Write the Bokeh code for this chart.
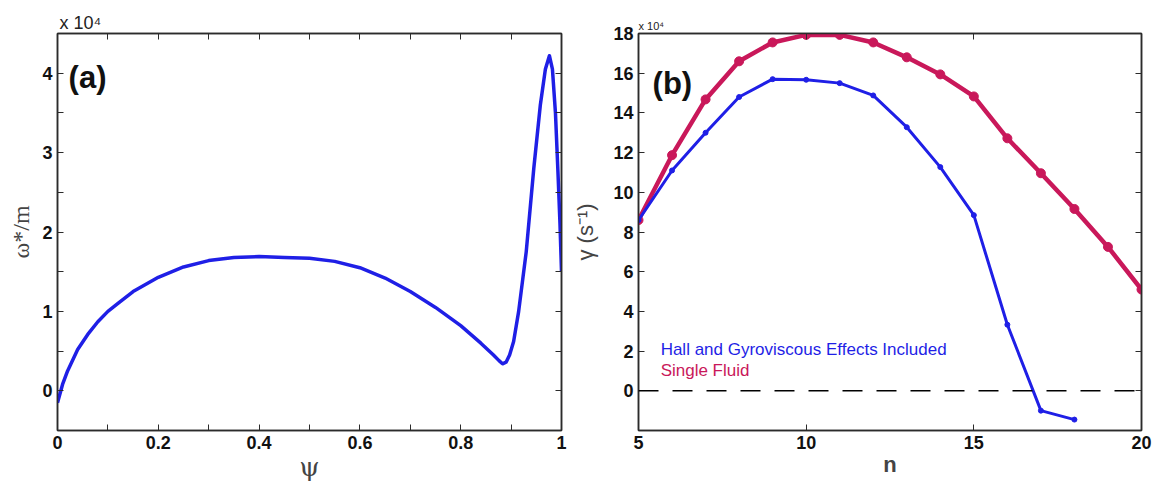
from bokeh.plotting import figure
from bokeh.layouts import row
from bokeh.models import (Range1d, FixedTicker, LinearAxis, Label, Span, Title,
                          CustomJSTickFormatter)
from bokeh.embed import file_html
from bokeh.resources import INLINE

# ---------------- data ----------------
# panel (a): omega*/m (units of 1e4) versus psi
psi = [0, 0.01, 0.02, 0.04, 0.06, 0.08, 0.1, 0.12, 0.15, 0.2, 0.25, 0.3, 0.35, 0.4,
       0.45, 0.5, 0.55, 0.6, 0.65, 0.7, 0.75, 0.8, 0.84, 0.865, 0.876, 0.883, 0.89,
       0.897, 0.905, 0.915, 0.93, 0.945, 0.958, 0.968, 0.976, 0.982, 0.988, 0.993,
       0.997, 1.0]
omega = [-0.15, 0.08, 0.25, 0.52, 0.71, 0.87, 1.0, 1.1, 1.25, 1.43, 1.56, 1.64, 1.68, 1.69,
         1.68, 1.67, 1.63, 1.55, 1.42, 1.25, 1.05, 0.82, 0.6, 0.45, 0.38, 0.34, 0.36,
         0.45, 0.62, 1.0, 1.75, 2.8, 3.6, 4.05, 4.22, 4.05, 3.5, 2.75, 2.1, 1.5]

# panel (b): growth rate gamma (units of 1e4 s^-1) versus n
n_single = [5, 6, 7, 8, 9, 10, 11, 12, 13, 14, 15, 16, 17, 18, 19, 20]
gamma_single = [8.6, 11.87, 14.68, 16.6, 17.55, 17.93, 17.93, 17.55, 16.8, 15.94,
                14.83, 12.72, 10.96, 9.16, 7.25, 5.1]
n_hall = [5, 6, 7, 8, 9, 10, 11, 12, 13, 14, 15, 16, 17, 18]
gamma_hall = [8.6, 11.1, 13.0, 14.8, 15.7, 15.67, 15.5, 14.88, 13.28, 11.27,
              8.85, 3.33, -1.0, -1.45]

# ticks
xticks_a = [0, 0.2, 0.4, 0.6, 0.8, 1]
xminor_a = [0.1, 0.3, 0.5, 0.7, 0.9]
yticks_a = [0, 1, 2, 3, 4]
yminor_a = [-0.5, 0.5, 1.5, 2.5, 3.5]
xticks_b = [5, 10, 15, 20]
yticks_b = [0, 2, 4, 6, 8, 10, 12, 14, 16, 18]

BLUE = "#1f1fe6"
RED = "#c9185a"
AXC = "#2b2b2b"
TICKFONT = "Liberation Sans"

fmt = CustomJSTickFormatter(code="return String(Math.round(tick*10)/10);")
blank = CustomJSTickFormatter(code="return '';")


def style_axis(ax, labels=True):
    ax.axis_line_color = AXC
    ax.axis_line_width = 1.5
    ax.major_tick_line_color = AXC
    ax.minor_tick_line_color = AXC
    ax.major_tick_line_width = 1
    ax.minor_tick_line_width = 1
    ax.major_tick_in = 6
    ax.major_tick_out = 0
    ax.minor_tick_in = 6
    ax.minor_tick_out = 0
    ax.major_label_text_font = TICKFONT
    ax.major_label_text_font_style = "bold"
    ax.major_label_text_color = "#111111"
    ax.major_label_text_font_size = "18px"
    ax.major_label_standoff = 5 if labels else 0


def make_fig(width, left, right, xr, yr):
    p = figure(width=width, height=484, output_backend="svg", toolbar_location=None,
               x_range=xr, y_range=yr, min_border_left=left, min_border_right=right,
               min_border_top=33, min_border_bottom=52, x_axis_type=None, y_axis_type=None)
    p.xgrid.visible = False
    p.ygrid.visible = False
    p.outline_line_color = AXC
    p.outline_line_width = 1.5
    p.background_fill_color = "white"
    p.border_fill_color = "white"
    return p


def add_axes(p, tx, ty):
    axes = {}
    for loc, dim in (("below", "x"), ("above", "x"), ("left", "y"), ("right", "y")):
        lab = loc in ("below", "left")
        ax = LinearAxis(ticker=tx if dim == "x" else ty, formatter=fmt if lab else blank)
        style_axis(ax, labels=lab)
        axes[loc] = ax
    return axes


# ---------------- panel (a) ----------------
pa = make_fig(570, 57, 9, Range1d(0, 1), Range1d(-0.5, 4.5))
axa = add_axes(pa, FixedTicker(ticks=xticks_a, minor_ticks=xminor_a),
               FixedTicker(ticks=yticks_a, minor_ticks=yminor_a))
ax = axa["below"]
ax.axis_label = "ψ"
ax.axis_label_text_font = "DejaVu Serif"
ax.axis_label_text_font_style = "normal"
ax.axis_label_text_font_size = "26px"
ax.axis_label_standoff = 0
ax = axa["left"]
ax.axis_label = "ω*/m"
ax.axis_label_text_font = "Liberation Serif"
ax.axis_label_text_font_style = "normal"
ax.axis_label_text_font_size = "24px"
ax.axis_label_standoff = 5

for loc in ("below", "above", "left", "right"):
    pa.add_layout(axa[loc], loc)
pa.add_layout(Title(text="x 10⁴", align="left", offset=2, standoff=2,
                    text_font=TICKFONT, text_font_style="normal", text_font_size="18px",
                    text_color="#222222"), "above")

pa.line(psi, omega, line_color=BLUE, line_width=3.5, line_join="round")
pa.add_layout(Label(x=0.022, y=3.94, text="(a)", text_font=TICKFONT, text_font_style="bold",
                    text_font_size="31px", text_color="#111111", text_baseline="alphabetic"))

# ---------------- panel (b) ----------------
pb = make_fig(589, 68, 18, Range1d(5, 20), Range1d(-2, 18))
axb = add_axes(pb, FixedTicker(ticks=xticks_b), FixedTicker(ticks=yticks_b))
ax = axb["below"]
ax.axis_label = "n"
ax.axis_label_text_font = TICKFONT
ax.axis_label_text_font_style = "bold"
ax.axis_label_text_font_size = "22px"
ax.axis_label_standoff = 0
ax = axb["left"]
ax.axis_label = "γ (s⁻¹)"
ax.axis_label_text_font = TICKFONT
ax.axis_label_text_font_style = "normal"
ax.axis_label_text_font_size = "22px"
ax.axis_label_standoff = 12

for loc in ("below", "above", "left", "right"):
    pb.add_layout(axb[loc], loc)
pb.add_layout(Title(text="x 10⁴", align="left", offset=0, standoff=3,
                    text_font=TICKFONT, text_font_style="normal", text_font_size="11px",
                    text_color="#222222"), "above")

pb.add_layout(Span(location=0, dimension="width", line_color="black", line_width=1.5,
                   line_dash="20 14"))

pb.line(n_single, gamma_single, line_color=RED, line_width=4.5)
pb.scatter(n_single, gamma_single, size=9, fill_color=RED, line_color=RED)
pb.line(n_hall, gamma_hall, line_color=BLUE, line_width=3)
pb.scatter(n_hall, gamma_hall, size=5, fill_color=BLUE, line_color=BLUE)

pb.add_layout(Label(x=5.42, y=15.49, text="(b)", text_font=TICKFONT, text_font_style="bold",
                    text_font_size="31px", text_color="#111111", text_baseline="alphabetic"))
pb.add_layout(Label(x=5.66, y=2.07, text="Hall and Gyroviscous Effects Included",
                    text_font=TICKFONT, text_font_size="17px", text_color=BLUE,
                    text_baseline="alphabetic"))
pb.add_layout(Label(x=5.66, y=1.02, text="Single Fluid",
                    text_font=TICKFONT, text_font_size="17px", text_color=RED,
                    text_baseline="alphabetic"))

layout = row(pa, pb, spacing=0)
open("out.html", "w").write(file_html(layout, INLINE))
